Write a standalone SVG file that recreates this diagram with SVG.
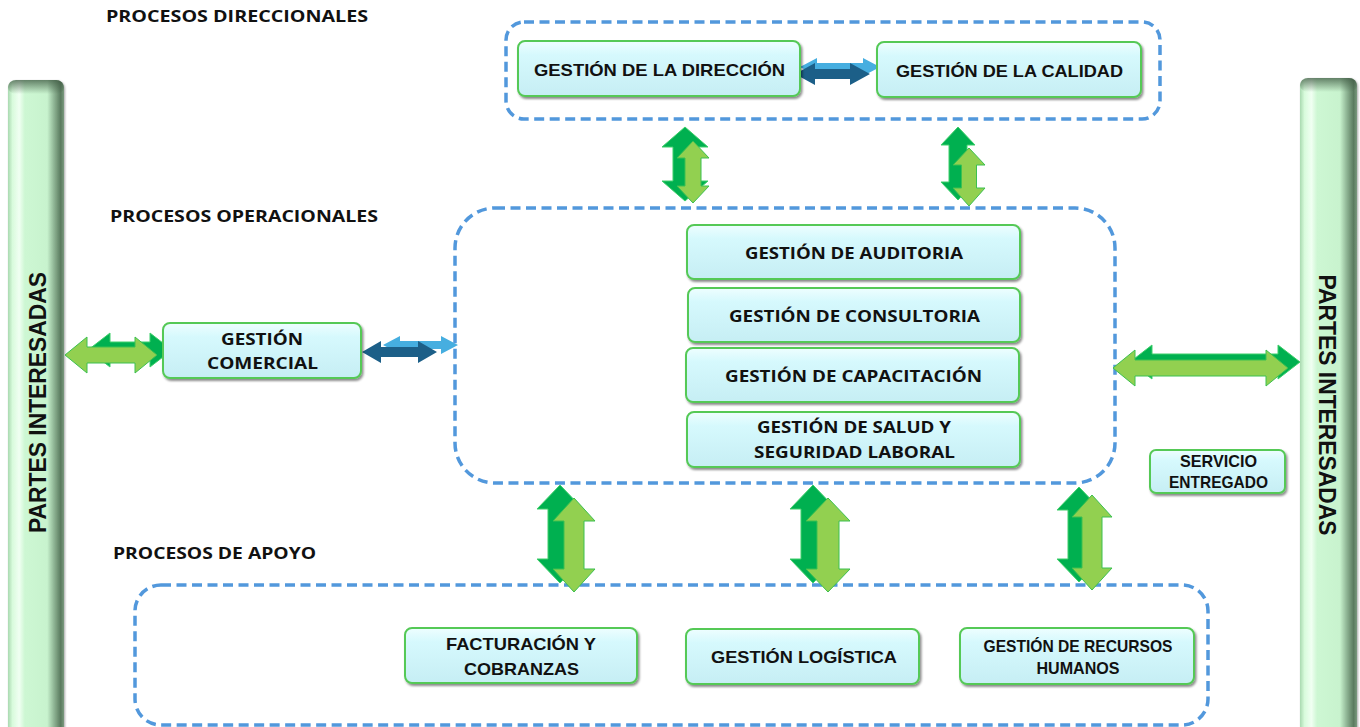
<svg xmlns="http://www.w3.org/2000/svg" width="1360" height="727" viewBox="0 0 1360 727">
<defs>
<linearGradient id="boxg" x1="0" y1="0" x2="0" y2="1">
<stop offset="0" stop-color="#eefeff"/>
<stop offset="0.25" stop-color="#d6f9fd"/>
<stop offset="1" stop-color="#c6eef4"/>
</linearGradient>
<linearGradient id="barg" x1="0" y1="0" x2="1" y2="0">
<stop offset="0" stop-color="#a9d9b0"/>
<stop offset="0.08" stop-color="#d8fbdc"/>
<stop offset="0.2" stop-color="#f0fff2"/>
<stop offset="0.3" stop-color="#cdf7d3"/>
<stop offset="0.7" stop-color="#c8f3ce"/>
<stop offset="0.82" stop-color="#8fb595"/>
<stop offset="0.94" stop-color="#5a7a5e"/>
<stop offset="1" stop-color="#7a9a7e"/>
</linearGradient>
<linearGradient id="bartop" x1="0" y1="0" x2="0" y2="1">
<stop offset="0" stop-color="#3f5a43" stop-opacity="0.75"/>
<stop offset="1" stop-color="#3f5a43" stop-opacity="0"/>
</linearGradient>
<filter id="sh" x="-10%" y="-20%" width="130%" height="150%">
<feDropShadow dx="1.5" dy="2" stdDeviation="1.2" flood-color="#000" flood-opacity="0.45"/>
</filter>
<filter id="bsh" x="-20%" y="-5%" width="150%" height="110%">
<feDropShadow dx="1" dy="1" stdDeviation="1" flood-color="#000" flood-opacity="0.35"/>
</filter>
</defs>
<style>
.box{fill:url(#boxg);stroke:#55c957;stroke-width:2;filter:url(#sh)}
.cont{fill:none;stroke:#5298dc;stroke-width:3.5;stroke-dasharray:10 5.5}
.bar{fill:url(#barg);filter:url(#bsh)}
.t{font-family:"Open Sans","Liberation Sans",sans-serif;font-weight:700;font-size:16px;fill:#111;text-anchor:middle}
.a{font-family:"Liberation Sans",Arial,sans-serif;font-weight:700;font-size:17px;fill:#111;text-anchor:middle}
.ttl{font-family:"Open Sans","Liberation Sans",sans-serif;font-weight:700;font-size:16px;fill:#111}
.v{font-family:"Liberation Sans",Arial,sans-serif;font-weight:700;font-size:24px;fill:#111;text-anchor:middle}
.dg{fill:#00b050;stroke:#3fcf6a;stroke-width:1}
.lg{fill:#92d050;stroke:#3cc050;stroke-width:1}
.db{fill:#1c5f88}
.lb{fill:#46aee0}
</style>

<g id="containers">
<rect class="cont" x="506" y="22" width="654" height="97" rx="18"/>
<rect class="cont" x="455" y="208" width="660" height="275" rx="40"/>
<rect class="cont" x="135" y="585" width="1073" height="140" rx="26"/>
</g>

<g id="titles">
<text class="ttl" x="106" y="22" textLength="262" lengthAdjust="spacingAndGlyphs">PROCESOS DIRECCIONALES</text>
<text class="ttl" x="110" y="222" textLength="268" lengthAdjust="spacingAndGlyphs">PROCESOS OPERACIONALES</text>
<text class="ttl" x="113" y="559" textLength="203" lengthAdjust="spacingAndGlyphs">PROCESOS DE APOYO</text>
</g>

<g id="partes-izq">
<rect class="bar" x="8" y="80" width="56" height="660" rx="8"/>
<rect x="8" y="80" width="56" height="14" rx="8" fill="url(#bartop)"/>
<text class="v" transform="translate(46,402.5) rotate(-90)" textLength="261" lengthAdjust="spacingAndGlyphs">PARTES INTERESADAS</text>
</g>

<g id="partes-der">
<rect class="bar" x="1300" y="78" width="57" height="662" rx="8"/>
<rect x="1300" y="78" width="57" height="14" rx="8" fill="url(#bartop)"/>
<text class="v" transform="translate(1319,405) rotate(90)" textLength="261" lengthAdjust="spacingAndGlyphs">PARTES INTERESADAS</text>
</g>

<g id="connectors">
<!-- top blue double arrow -->
<path class="lb" d="M800,67 L817,58 L817,63 L863,63 L863,58 L880,67 L863,76 L863,71 L817,71 L817,76 Z"/>
<path class="db" d="M795,74 L815,63 L815,69 L850,69 L850,63 L870,74 L850,85 L850,79 L815,79 L815,85 Z"/>
<!-- top vertical arrows -->
<path class="dg" d="M685,127 L708,147 L697,147 L697,181 L708,181 L685,201 L662,181 L673,181 L673,147 L662,147 Z"/>
<path class="lg" d="M693,141 L709,158 L701,158 L701,186 L709,186 L693,203 L677,186 L685,186 L685,158 L677,158 Z"/>
<path class="dg" d="M958,127 L975,145 L967,145 L967,182 L975,182 L958,200 L941,182 L949,182 L949,145 L941,145 Z"/>
<path class="lg" d="M969,148 L985,165 L976.5,165 L976.5,188 L985,188 L969,206 L953,188 L961.5,188 L961.5,165 L953,165 Z"/>
<!-- left horizontal green -->
<path class="dg" d="M88,350 L110,333 L110,342 L150,342 L150,333 L172,350 L150,367 L150,358 L110,358 L110,367 Z"/>
<path class="lg" d="M65,355 L87,337 L87,347 L135,347 L135,337 L157,355 L135,373 L135,363 L87,363 L87,373 Z"/>
<!-- blue arrow to operations -->
<path class="lb" d="M383,345 L400,336 L400,341 L441,341 L441,336 L458,345 L441,354 L441,349 L400,349 L400,354 Z"/>
<path class="db" d="M362,352 L381,341 L381,347 L418,347 L418,341 L437,352 L418,363 L418,357 L381,357 L381,363 Z"/>
<!-- right horizontal green -->
<path class="dg" d="M1130,362 L1152,345 L1152,354 L1278,354 L1278,345 L1300,362 L1278,379 L1278,370 L1152,370 L1152,379 Z"/>
<path class="lg" d="M1113,368 L1135,350 L1135,360 L1266,360 L1266,350 L1288,368 L1266,386 L1266,376 L1135,376 L1135,386 Z"/>
<!-- bottom vertical arrows -->
<path class="dg" d="M560,485 L583,509 L572,509 L572,559 L583,559 L560,583 L537,559 L548,559 L548,509 L537,509 Z"/>
<path class="lg" d="M574,498 L595,521 L584,521 L584,569 L595,569 L574,592 L553,569 L564,569 L564,521 L553,521 Z"/>
<path class="dg" d="M813,485 L836,509 L825,509 L825,559 L836,559 L813,583 L790,559 L801,559 L801,509 L790,509 Z"/>
<path class="lg" d="M828,498 L850,521 L839,521 L839,569 L850,569 L828,592 L806,569 L817,569 L817,521 L806,521 Z"/>
<path class="dg" d="M1079,487 L1101,510 L1090,510 L1090,559 L1101,559 L1079,582 L1057,559 L1068,559 L1068,510 L1057,510 Z"/>
<path class="lg" d="M1092,495 L1112,517 L1102,517 L1102,568 L1112,568 L1092,590 L1072,568 L1082,568 L1082,517 L1072,517 Z"/>
</g>

<g id="gestion-direccion">
<rect class="box" x="518" y="41" width="282" height="55" rx="7"/>
<text class="a" x="659.5" y="76" textLength="251" lengthAdjust="spacingAndGlyphs">GESTIÓN DE LA DIRECCIÓN</text>
</g>
<g id="gestion-calidad">
<rect class="box" x="877" y="42" width="264" height="55" rx="7"/>
<text class="a" x="1009.5" y="77" textLength="227" lengthAdjust="spacingAndGlyphs">GESTIÓN DE LA CALIDAD</text>
</g>
<g id="gestion-comercial">
<rect class="box" x="163" y="323" width="198" height="55" rx="7"/>
<text class="t" x="262" y="345" textLength="82" lengthAdjust="spacingAndGlyphs">GESTIÓN</text>
<text class="t" x="262.5" y="369" textLength="111" lengthAdjust="spacingAndGlyphs">COMERCIAL</text>
</g>
<g id="gestion-auditoria">
<rect class="box" x="687" y="225" width="333" height="54" rx="7"/>
<text class="t" x="854" y="259" textLength="218" lengthAdjust="spacingAndGlyphs">GESTIÓN DE AUDITORIA</text>
</g>
<g id="gestion-consultoria">
<rect class="box" x="688" y="288" width="332" height="54" rx="7"/>
<text class="t" x="854.5" y="322" textLength="251" lengthAdjust="spacingAndGlyphs">GESTIÓN DE CONSULTORIA</text>
</g>
<g id="gestion-capacitacion">
<rect class="box" x="686" y="348" width="333" height="54" rx="7"/>
<text class="t" x="853.5" y="382" textLength="257" lengthAdjust="spacingAndGlyphs">GESTIÓN DE CAPACITACIÓN</text>
</g>
<g id="gestion-salud">
<rect class="box" x="687" y="412" width="333" height="55" rx="7"/>
<text class="t" x="854" y="433" textLength="194" lengthAdjust="spacingAndGlyphs">GESTIÓN DE SALUD Y</text>
<text class="t" x="854.5" y="458" textLength="201" lengthAdjust="spacingAndGlyphs">SEGURIDAD LABORAL</text>
</g>
<g id="servicio-entregado">
<rect class="box" x="1150" y="450" width="135" height="43" rx="6"/>
<text class="a" x="1218.5" y="467" font-size="15" textLength="77" lengthAdjust="spacingAndGlyphs">SERVICIO</text>
<text class="a" x="1218.5" y="488" font-size="15" textLength="99" lengthAdjust="spacingAndGlyphs">ENTREGADO</text>
</g>
<g id="facturacion">
<rect class="box" x="405" y="628" width="232" height="55" rx="7"/>
<text class="a" x="521" y="650" font-size="16" textLength="150" lengthAdjust="spacingAndGlyphs">FACTURACIÓN Y</text>
<text class="a" x="521.5" y="675" font-size="16" textLength="115" lengthAdjust="spacingAndGlyphs">COBRANZAS</text>
</g>
<g id="gestion-logistica">
<rect class="box" x="686" y="629" width="233" height="55" rx="7"/>
<text class="a" x="804" y="663" font-size="16.5" textLength="186" lengthAdjust="spacingAndGlyphs">GESTIÓN LOGÍSTICA</text>
</g>
<g id="recursos-humanos">
<rect class="box" x="960" y="628" width="234" height="56" rx="7"/>
<text class="a" x="1078" y="652" font-size="15" textLength="189" lengthAdjust="spacingAndGlyphs">GESTIÓN DE RECURSOS</text>
<text class="a" x="1078" y="674" font-size="15" textLength="83" lengthAdjust="spacingAndGlyphs">HUMANOS</text>
</g>
</svg>
